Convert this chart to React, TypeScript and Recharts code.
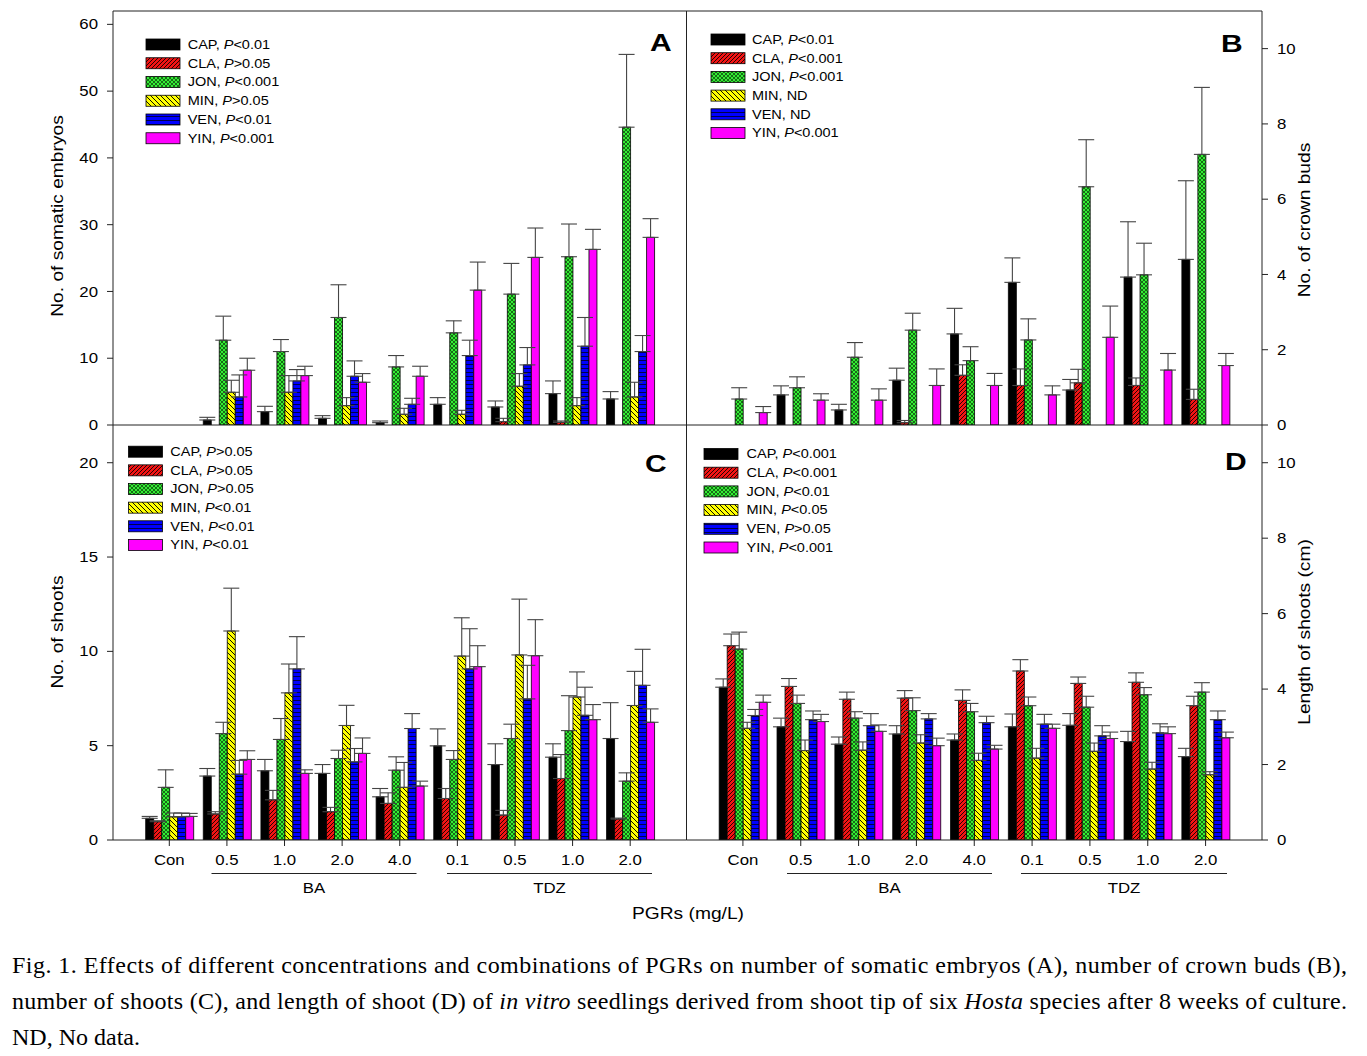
import React from 'react';
import { BarChart, Bar, XAxis, YAxis, ErrorBar } from 'recharts';

// ---------- data ----------
const categories = ['Con', '0.5', '1.0', '2.0', '4.0', '0.1', '0.5', '1.0', '2.0'];
const seriesNames = ['CAP', 'CLA', 'JON', 'MIN', 'VEN', 'YIN'];
const seriesFills = ['#000000', 'url(#pat-CLA)', 'url(#pat-JON)', 'url(#pat-MIN)', 'url(#pat-VEN)', '#ff00ff'];

// Panel A: No. of somatic embryos
const embCAP = [null, 0.75, 2.0, 1.0, 0.35, 3.1, 2.7, 4.7, 3.9];
const embCAPErr = [null, 0.4, 0.8, 0.4, 0.25, 1.0, 0.9, 1.9, 1.1];
const embCLA = [null, null, null, null, null, null, 0.5, 0.4, null];
const embCLAErr = [null, null, null, null, null, null, 0.5, 0.2, null];
const embJON = [null, 12.7, 11.0, 16.1, 8.7, 13.8, 19.6, 25.2, 44.6];
const embJONErr = [null, 3.6, 1.8, 4.9, 1.7, 1.8, 4.6, 4.9, 10.9];
const embMIN = [null, 4.9, 4.9, 2.9, 1.6, 1.6, 5.8, 2.9, 4.2];
const embMINErr = [null, 1.8, 2.5, 1.2, 0.9, 0.6, 1.9, 1.2, 2.2];
const embVEN = [null, 4.2, 6.6, 7.3, 3.1, 10.4, 9.0, 11.8, 11.0];
const embVENErr = [null, 3.3, 1.7, 2.3, 0.9, 2.3, 2.6, 4.3, 2.4];
const embYIN = [null, 8.2, 7.4, 6.4, 7.3, 20.2, 25.1, 26.3, 28.1];
const embYINErr = [null, 1.8, 1.4, 1.3, 1.5, 4.2, 4.4, 3.0, 2.8];
const embSig = ['P<0.01', 'P>0.05', 'P<0.001', 'P>0.05', 'P<0.01', 'P<0.001'];

// Panel B: No. of crown buds
const budCAP = [null, 0.80, 0.40, 1.19, 2.42, 3.79, 0.93, 3.93, 4.40];
const budCAPErr = [null, 0.24, 0.15, 0.32, 0.68, 0.65, 0.28, 1.47, 2.09];
const budCLA = [null, null, null, 0.06, 1.32, 1.05, 1.12, 1.05, 0.68];
const budCLAErr = [null, null, null, 0.06, 0.28, 0.44, 0.36, 0.2, 0.27];
const budJON = [0.69, 0.99, 1.80, 2.52, 1.71, 2.26, 6.33, 3.99, 7.19];
const budJONErr = [0.3, 0.29, 0.39, 0.45, 0.37, 0.56, 1.25, 0.84, 1.78];
const budMIN = [null, null, null, null, null, null, null, null, null];
const budMINErr = [null, null, null, null, null, null, null, null, null];
const budVEN = [null, null, null, null, null, null, null, null, null];
const budVENErr = [null, null, null, null, null, null, null, null, null];
const budYIN = [0.33, 0.66, 0.66, 1.05, 1.05, 0.80, 2.33, 1.46, 1.58];
const budYINErr = [0.16, 0.17, 0.3, 0.44, 0.32, 0.24, 0.83, 0.44, 0.32];
const budSig = ['P<0.01', 'P<0.001', 'P<0.001', 'ND', 'ND', 'P<0.001'];

// Panel C: No. of shoots
const shoCAP = [1.15, 3.39, 3.67, 3.53, 2.29, 4.99, 4.0, 4.39, 5.38];
const shoCAPErr = [0.1, 0.4, 0.6, 0.47, 0.44, 0.9, 1.1, 0.71, 1.9];
const shoCLA = [0.97, 1.38, 2.13, 1.50, 1.94, 2.20, 1.32, 3.26, 1.11];
const shoCLAErr = [0.05, 0.12, 0.5, 0.23, 0.56, 0.53, 0.25, 1.27, 0.05];
const shoJON = [2.79, 5.64, 5.33, 4.32, 3.70, 4.27, 5.38, 5.80, 3.12];
const shoJONErr = [0.93, 0.6, 1.11, 0.44, 0.71, 0.47, 0.76, 1.85, 0.44];
const shoMIN = [1.23, 11.08, 7.80, 6.07, 2.79, 9.75, 9.81, 7.58, 7.13];
const shoMINErr = [0.2, 2.27, 1.53, 1.07, 1.32, 2.03, 2.96, 1.33, 1.81];
const shoVEN = [1.23, 3.49, 9.07, 4.14, 5.91, 9.07, 7.48, 6.61, 8.20];
const shoVENErr = [0.2, 0.73, 1.71, 0.71, 0.79, 2.13, 1.78, 1.49, 1.91];
const shoYIN = [1.25, 4.27, 3.53, 4.59, 2.86, 9.19, 9.77, 6.38, 6.24];
const shoYINErr = [0.16, 0.46, 0.19, 0.82, 0.26, 1.11, 1.91, 0.8, 0.71];
const shoSig = ['P>0.05', 'P>0.05', 'P>0.05', 'P<0.01', 'P<0.01', 'P<0.01'];

// Panel D: Length of shoots (cm)
const lenCAP = [4.05, 3.0, 2.54, 2.81, 2.65, 3.0, 3.04, 2.61, 2.21];
const lenCAPErr = [0.22, 0.23, 0.19, 0.22, 0.16, 0.34, 0.31, 0.27, 0.22];
const lenCLA = [5.15, 4.07, 3.73, 3.76, 3.70, 4.48, 4.15, 4.18, 3.56];
const lenCLAErr = [0.31, 0.21, 0.19, 0.2, 0.28, 0.3, 0.17, 0.25, 0.25];
const lenJON = [5.06, 3.62, 3.23, 3.43, 3.40, 3.56, 3.52, 3.85, 3.92];
const lenJONErr = [0.45, 0.22, 0.17, 0.34, 0.22, 0.23, 0.29, 0.19, 0.25];
const lenMIN = [2.96, 2.37, 2.38, 2.57, 2.11, 2.17, 2.35, 1.88, 1.73];
const lenMINErr = [0.16, 0.28, 0.22, 0.22, 0.19, 0.26, 0.22, 0.18, 0.08];
const lenVEN = [3.30, 3.19, 3.03, 3.21, 3.11, 3.07, 2.76, 2.84, 3.19];
const lenVENErr = [0.16, 0.23, 0.32, 0.14, 0.17, 0.26, 0.27, 0.24, 0.23];
const lenYIN = [3.65, 3.14, 2.88, 2.50, 2.41, 2.96, 2.69, 2.82, 2.71];
const lenYINErr = [0.19, 0.19, 0.17, 0.2, 0.1, 0.11, 0.17, 0.18, 0.15];
const lenSig = ['P<0.001', 'P<0.001', 'P<0.01', 'P<0.05', 'P>0.05', 'P<0.001'];

const embTicks = [0, 10, 20, 30, 40, 50, 60];
const budTicks = [0, 2, 4, 6, 8, 10];
const shoTicks = [0, 5, 10, 15, 20];
const lenTicks = [0, 2, 4, 6, 8, 10];

// ---------- layout ----------
const W = 1367;
const H = 1056;
const PL = 113;
const PM = 686.5;
const PR = 1262;
const PT = 11;
const PMID = 425;
const PB = 840;
const FONT = '"Liberation Sans", Arial, Helvetica, sans-serif';
const SERIF = '"Liberation Serif", "Times New Roman", serif';
const SX = 1.2;

function buildRows(vals: (number | null)[][], errs: (number | null)[][]) {
  return categories.map((c, i) => {
    const r: any = { key: i, label: c };
    seriesNames.forEach((s, j) => {
      const v = vals[j][i];
      const e = errs[j][i];
      r[s] = v;
      r[s + '_e'] = v == null || e == null ? null : [0, e];
    });
    return r;
  });
}

const embRows = buildRows([embCAP, embCLA, embJON, embMIN, embVEN, embYIN], [embCAPErr, embCLAErr, embJONErr, embMINErr, embVENErr, embYINErr]);
const budRows = buildRows([budCAP, budCLA, budJON, budMIN, budVEN, budYIN], [budCAPErr, budCLAErr, budJONErr, budMINErr, budVENErr, budYINErr]);
const shoRows = buildRows([shoCAP, shoCLA, shoJON, shoMIN, shoVEN, shoYIN], [shoCAPErr, shoCLAErr, shoJONErr, shoMINErr, shoVENErr, shoYINErr]);
const lenRows = buildRows([lenCAP, lenCLA, lenJON, lenMIN, lenVEN, lenYIN], [lenCAPErr, lenCLAErr, lenJONErr, lenMINErr, lenVENErr, lenYINErr]);

function SText(props: any) {
  const { x, y, rotate = 0, size = 14, anchor = 'start', bold = false, sx = SX, dy = '0.36em', children } = props;
  return (
    <text
      transform={`translate(${x},${y})${rotate ? ` rotate(${rotate})` : ''} scale(${sx},1)`}
      fontSize={size}
      textAnchor={anchor}
      fontFamily={FONT}
      fontWeight={bold ? 'bold' : 'normal'}
      dy={dy}
      fill="#000"
    >
      {children}
    </text>
  );
}

const YTick = (props: any) => {
  const { x, y, payload, textAnchor } = props;
  return <SText x={x} y={y} size={14} anchor={textAnchor}>{payload.value}</SText>;
};

const XTick = (props: any) => {
  const { x, y, payload } = props;
  return <SText x={x} y={y} size={14} anchor="middle" dy="0.71em">{categories[payload.value]}</SText>;
};

function PanelChart(props: any) {
  const { rows, left, right, top, bottom, yDomain, yTicks, yOrient, showX } = props;
  const YW = 50;
  const XH = 30;
  const margin = {
    top,
    bottom: H - bottom - (showX ? XH : 0),
    left: yOrient === 'left' ? left - YW : left,
    right: yOrient === 'right' ? W - right - YW : W - right,
  };
  return (
    <div style={{ position: 'absolute', left: 0, top: 0 }}>
      <BarChart width={W} height={H} data={rows} margin={margin} barCategoryGap="9%" barGap={0}>
        <XAxis
          dataKey="key"
          hide={!showX}
          height={XH}
          padding={{ left: 27.5, right: 27.5 }}
          tickSize={6}
          tickMargin={9}
          axisLine={{ stroke: '#222' }}
          tickLine={{ stroke: '#222' }}
          tick={(p: any) => <XTick {...p} />}
          interval={0}
        />
        <YAxis
          orientation={yOrient}
          width={YW}
          domain={yDomain}
          ticks={yTicks}
          allowDataOverflow
          tickSize={6}
          tickMargin={9}
          axisLine={{ stroke: '#222' }}
          tickLine={{ stroke: '#222' }}
          tick={(p: any) => <YTick {...p} />}
          interval={0}
        />
        {seriesNames.map((s, j) => (
          <Bar key={s} dataKey={s} fill={seriesFills[j]} stroke="#000" strokeWidth={0.8} isAnimationActive={false}>
            <ErrorBar dataKey={s + '_e'} width={8} stroke="#444" strokeWidth={1.1} direction="y" />
          </Bar>
        ))}
      </BarChart>
    </div>
  );
}

function LegendBlock(props: any) {
  const { sx, tx, y0, dy, sig } = props;
  return (
    <g>
      {seriesNames.map((s, i) => {
        const cy = y0 + dy * i;
        const t = sig[i];
        return (
          <g key={s}>
            <rect x={sx} y={cy - 5.5} width={34} height={11} fill={seriesFills[i]} stroke="#000" strokeWidth={0.8} />
            <SText x={tx} y={cy} size={12.2} sx={1.19}>
              {s + ', '}
              {t.startsWith('P') ? (
                <>
                  <tspan fontStyle="italic">P</tspan>
                  {t.slice(1)}
                </>
              ) : (
                t
              )}
            </SText>
          </g>
        );
      })}
    </g>
  );
}

function Patterns() {
  return (
    <defs>
      <pattern id="pat-CLA" patternUnits="userSpaceOnUse" width="4" height="4">
        <rect width="4" height="4" fill="#f41414" />
        <path d="M-1,1 L1,-1 M0,4 L4,0 M3,5 L5,3" stroke="#000" strokeWidth="0.85" />
      </pattern>
      <pattern id="pat-MIN" patternUnits="userSpaceOnUse" width="5" height="5">
        <rect width="5" height="5" fill="#ffff00" />
        <path d="M-1,4 L1,6 M0,0 L5,5 M4,-1 L6,1" stroke="#000" strokeWidth="0.95" />
      </pattern>
      <pattern id="pat-VEN" patternUnits="userSpaceOnUse" width="4" height="4">
        <rect width="4" height="4" fill="#0000ff" />
        <path d="M0,0.4 L4,0.4" stroke="#000" strokeWidth="0.8" />
      </pattern>
      <pattern id="pat-JON" patternUnits="userSpaceOnUse" width="4" height="4">
        <rect width="4" height="4" fill="#33ee33" />
        <path d="M0,0 L4,4 M0,4 L4,0" stroke="#000" strokeWidth="0.55" />
      </pattern>
    </defs>
  );
}

export default function App() {
  return (
    <div style={{ position: 'absolute', left: 0, top: 0, width: W, height: H, background: '#fff', overflow: 'hidden' }}>
      <PanelChart rows={embRows} left={PL} right={PM} top={PT} bottom={PMID} yDomain={[0, 62]} yTicks={embTicks} yOrient="left" showX={false} />
      <PanelChart rows={budRows} left={PM} right={PR} top={PT} bottom={PMID} yDomain={[0, 11]} yTicks={budTicks} yOrient="right" showX={false} />
      <PanelChart rows={shoRows} left={PL} right={PM} top={PMID} bottom={PB} yDomain={[0, 22]} yTicks={shoTicks} yOrient="left" showX={true} />
      <PanelChart rows={lenRows} left={PM} right={PR} top={PMID} bottom={PB} yDomain={[0, 11]} yTicks={lenTicks} yOrient="right" showX={true} />
      <svg width={W} height={H} style={{ position: 'absolute', left: 0, top: 0, pointerEvents: 'none' }}>
        <Patterns />
        {/* frame */}
        <line x1={PL} y1={PT} x2={PR} y2={PT} stroke="#222" strokeWidth={1} />
        <line x1={PM} y1={PT} x2={PM} y2={PB} stroke="#222" strokeWidth={1} />
        <line x1={PL} y1={PMID} x2={PR} y2={PMID} stroke="#222" strokeWidth={1} />
        {/* legends */}
        <LegendBlock sx={146} tx={187.7} y0={44.5} dy={18.75} sig={embSig} />
        <LegendBlock sx={711} tx={752} y0={39.5} dy={18.7} sig={budSig} />
        <LegendBlock sx={128.5} tx={170.3} y0={451.7} dy={18.65} sig={shoSig} />
        <LegendBlock sx={704} tx={746.5} y0={454} dy={18.7} sig={lenSig} />
        {/* panel letters */}
        <SText x={650} y={51} size={24} bold sx={1.25} dy="0">A</SText>
        <SText x={1221} y={52} size={24} bold sx={1.25} dy="0">B</SText>
        <SText x={645} y={472} size={24} bold sx={1.25} dy="0">C</SText>
        <SText x={1225} y={470} size={24} bold sx={1.25} dy="0">D</SText>
        {/* axis titles */}
        <SText x={57} y={216} rotate={-90} size={16} anchor="middle">No. of somatic embryos</SText>
        <SText x={1304} y={220} rotate={-90} size={16} anchor="middle">No. of crown buds</SText>
        <SText x={57} y={632} rotate={-90} size={16} anchor="middle">No. of shoots</SText>
        <SText x={1304} y={632} rotate={-90} size={16} anchor="middle">Length of shoots (cm)</SText>
        {/* group brackets */}
        <line x1={211.5} y1={873.5} x2={416.5} y2={873.5} stroke="#222" strokeWidth={1} />
        <line x1={447} y1={873.5} x2={652} y2={873.5} stroke="#222" strokeWidth={1} />
        <line x1={787} y1={873.5} x2={992} y2={873.5} stroke="#222" strokeWidth={1} />
        <line x1={1021} y1={873.5} x2={1227} y2={873.5} stroke="#222" strokeWidth={1} />
        <SText x={314} y={893} size={14} anchor="middle" dy="0">BA</SText>
        <SText x={549.5} y={893} size={14} anchor="middle" dy="0">TDZ</SText>
        <SText x={889.5} y={893} size={14} anchor="middle" dy="0">BA</SText>
        <SText x={1124} y={893} size={14} anchor="middle" dy="0">TDZ</SText>
        <SText x={688} y={919} size={16} anchor="middle" dy="0">PGRs (mg/L)</SText>
        {/* caption */}
        <text x={12} y={973} fontFamily={SERIF} fontSize={24} textLength={1335} lengthAdjust="spacing" fill="#000">
          Fig. 1. Effects of different concentrations and combinations of PGRs on number of somatic embryos (A), number of crown buds (B),
        </text>
        <text x={12} y={1009} fontFamily={SERIF} fontSize={24} textLength={1335} lengthAdjust="spacing" fill="#000">
          number of shoots (C), and length of shoot (D) of <tspan fontStyle="italic">in vitro</tspan> seedlings derived from shoot tip of six <tspan fontStyle="italic">Hosta</tspan> species after 8 weeks of culture.
        </text>
        <text x={12} y={1045} fontFamily={SERIF} fontSize={24} fill="#000">
          ND, No data.
        </text>
      </svg>
    </div>
  );
}
